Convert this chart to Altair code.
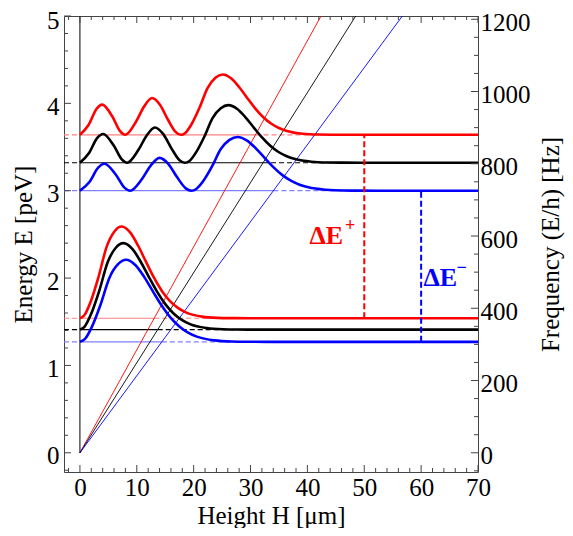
import altair as alt
import pandas as pd

# ---------------- data ----------------
X_DOMAIN = [-2.8, 70]
Y_DOMAIN = [-0.22, 5]
HZ_PER_PEV = 241.8
W, H = 414, 456

series = ["red", "black", "blue"]
curve_colors = ["#FF0000", "#000000", "#0000FF"]
level_colors = ["#FF8080", "#000000", "#8080FF"]

lower_levels = [1.54, 1.41, 1.27]
upper_levels = [3.64, 3.32, 3.00]
potential_top_x = [42.4, 48.5, 56.7]  # H where each potential line reaches 5 peV

# ground state curves
red_low_x = [0, 0.77, 1.89, 3.28, 4.68, 6.07, 7.36, 8.86, 10.26, 11.65, 13.05, 14.44, 15.84, 17.23, 18.63, 21.42, 24.21, 27.00, 29.79, 70]
red_low_y = [1.540, 1.574, 1.729, 2.015, 2.355, 2.533, 2.590, 2.520, 2.367, 2.182, 2.001, 1.850, 1.736, 1.659, 1.607, 1.559, 1.544, 1.541, 1.540, 1.540]
black_low_x = [0, 0.80, 1.96, 3.41, 4.86, 6.31, 7.65, 9.21, 10.66, 12.11, 13.56, 15.01, 16.46, 17.91, 19.36, 22.26, 25.16, 28.06, 30.96, 70]
black_low_y = [1.410, 1.442, 1.588, 1.857, 2.178, 2.347, 2.400, 2.334, 2.190, 2.015, 1.845, 1.702, 1.595, 1.522, 1.473, 1.428, 1.414, 1.411, 1.410, 1.410]
blue_low_x = [0, 0.85, 2.08, 3.62, 5.16, 6.70, 8.13, 9.78, 11.32, 12.86, 14.40, 15.94, 17.48, 19.02, 20.56, 23.64, 26.72, 29.80, 32.88, 70]
blue_low_y = [1.270, 1.300, 1.439, 1.695, 1.999, 2.159, 2.210, 2.147, 2.011, 1.844, 1.683, 1.547, 1.446, 1.376, 1.330, 1.287, 1.274, 1.271, 1.270, 1.270]

# third state curves
red_up_x = [0, 1.51, 2.91, 3.91, 5.70, 7.09, 8.00, 9.88, 11.28, 12.68, 14.07, 15.46, 16.86, 17.76, 18.53, 19.65, 21.04, 22.44, 23.83, 25.12, 26.62, 28.02, 29.41, 30.81, 32.20, 33.60, 34.99, 36.39, 39.18, 41.97, 44.76, 47.55, 70]
red_up_y = [3.640, 3.752, 3.936, 3.985, 3.849, 3.679, 3.640, 3.792, 3.964, 4.062, 3.985, 3.815, 3.671, 3.640, 3.662, 3.764, 3.952, 4.175, 4.293, 4.330, 4.284, 4.184, 4.062, 3.943, 3.844, 3.769, 3.718, 3.684, 3.652, 3.643, 3.641, 3.640, 3.640]
black_up_x = [0, 1.57, 3.02, 4.07, 5.92, 7.37, 8.31, 10.27, 11.72, 13.18, 14.62, 16.07, 17.52, 18.46, 19.26, 20.42, 21.87, 23.32, 24.77, 26.11, 27.67, 29.12, 30.57, 32.02, 33.47, 34.92, 36.37, 37.82, 40.72, 43.62, 46.52, 49.42, 70]
black_up_y = [3.320, 3.428, 3.603, 3.650, 3.520, 3.358, 3.320, 3.465, 3.630, 3.724, 3.650, 3.488, 3.349, 3.320, 3.341, 3.439, 3.618, 3.832, 3.944, 3.980, 3.936, 3.840, 3.723, 3.610, 3.515, 3.443, 3.395, 3.362, 3.332, 3.323, 3.321, 3.320, 3.320]
blue_up_x = [0, 1.67, 3.21, 4.32, 6.29, 7.83, 8.83, 10.91, 12.45, 14.00, 15.53, 17.07, 18.61, 19.61, 20.46, 21.69, 23.23, 24.77, 26.31, 27.73, 29.39, 30.93, 32.47, 34.01, 35.55, 37.09, 38.63, 40.17, 43.25, 46.33, 49.41, 52.49, 70]
blue_up_y = [3.000, 3.100, 3.264, 3.308, 3.186, 3.035, 3.000, 3.135, 3.288, 3.376, 3.308, 3.156, 3.027, 3.000, 3.020, 3.111, 3.278, 3.477, 3.582, 3.615, 3.574, 3.485, 3.376, 3.270, 3.181, 3.115, 3.069, 3.039, 3.011, 3.002, 3.001, 3.000, 3.000]

delta_x = [50, 60]          # H of the dashed ΔE markers (red, blue)
label_pos = [(48.4, 2.48), (60.4, 2.0)]

x_ticks = [0, 10, 20, 30, 40, 50, 60, 70]
y_ticks = [0, 1, 2, 3, 4, 5]
hz_ticks = [0, 200, 400, 600, 800, 1000, 1200]

FONT = "Liberation Serif"
FS = 25

curve_color = dict(zip(series, curve_colors))
level_color = dict(zip(series, level_colors))

# ---------------- tables ----------------
curve_rows = []
for s, (xs, ys) in zip(series, [(red_low_x, red_low_y), (black_low_x, black_low_y), (blue_low_x, blue_low_y)]):
    for i, (a, b) in enumerate(zip(xs, ys)):
        curve_rows.append({"c": curve_color[s], "curve": s + "1", "i": i, "x": a, "y": b})
for s, (xs, ys) in zip(series, [(red_up_x, red_up_y), (black_up_x, black_up_y), (blue_up_x, blue_up_y)]):
    for i, (a, b) in enumerate(zip(xs, ys)):
        curve_rows.append({"c": curve_color[s], "curve": s + "3", "i": i, "x": a, "y": b})
curves = pd.DataFrame(curve_rows)

solid_rows, dash_rows = [], []
for s, lo, up, tx in zip(series, lower_levels, upper_levels, potential_top_x):
    for e in (lo, up):
        turn = e * tx / Y_DOMAIN[1]
        solid_rows.append({"c": level_color[s], "x": 0, "x2": turn, "y": e})
        dash_rows.append({"c": level_color[s], "x": X_DOMAIN[0], "x2": 0, "y": e})
        dash_rows.append({"c": level_color[s], "x": turn, "x2": X_DOMAIN[1], "y": e})
lev_solid = pd.DataFrame(solid_rows)
lev_dash = pd.DataFrame(dash_rows)

pot = pd.DataFrame([{"c": curve_color[s], "s": s, "x": xv, "y": yv, "i": k}
                    for s, tx in zip(series, potential_top_x)
                    for k, (xv, yv) in enumerate([(0, 0), (tx, Y_DOMAIN[1])])])

wall = pd.DataFrame({"x": [0], "y": [0], "y2": [Y_DOMAIN[1]]})

deltas = pd.DataFrame({"c": [curve_color["red"], curve_color["blue"]], "x": delta_x,
                       "y": [lower_levels[0], lower_levels[2]],
                       "y2": [upper_levels[0], upper_levels[2]]})

x_minor = [float(v) for v in range(-2, 71, 2) if v % 10 != 0]
y_minor = [round(v * 0.2, 2) for v in range(-1, 25) if v % 5 != 0]
hz_minor = [v for v in range(-50, 1201, 50) if v % 200 != 0]

# ---------------- encodings ----------------
xscale = alt.Scale(domain=X_DOMAIN, nice=False, zero=False)
yscale = alt.Scale(domain=Y_DOMAIN, nice=False, zero=False)
hzscale = alt.Scale(domain=[Y_DOMAIN[0] * HZ_PER_PEV, Y_DOMAIN[1] * HZ_PER_PEV], nice=False, zero=False)

axis_common = dict(ticks=False, domain=False, grid=False, labelFont=FONT, labelFontSize=FS,
                   labelColor="black", titleFont=FONT, titleFontSize=FS, titleFontWeight="normal",
                   titleColor="black", format="d", labelOverlap=False, labelFlush=False)
x_axis = alt.Axis(values=x_ticks, labelPadding=3, title="Height H [μm]", titlePadding=3, **axis_common)
y_axis = alt.Axis(values=y_ticks, labelPadding=5,
                  labelOffset={"condition": {"test": "datum.value == 5", "value": 4.5}, "value": 3},
                  title="Energy E [peV]", titlePadding=10, **axis_common)
hz_axis = alt.Axis(values=hz_ticks, orient="right", labelPadding=2, labelOffset=3,
                   title="Frequency (E/h) [Hz]", titlePadding=33, titleAngle=270, **axis_common)


def X(f="x"):
    return alt.X(f + ":Q", scale=xscale, axis=x_axis)


def Y(f="y"):
    return alt.Y(f + ":Q", scale=yscale, axis=y_axis)


C = alt.Color("c:N", scale=None, legend=None)

levels_solid = alt.Chart(lev_solid).mark_rule(strokeWidth=1.2, clip=True).encode(
    x=X(), x2="x2:Q", y=Y(), color=C)
levels_dash = alt.Chart(lev_dash).mark_rule(strokeWidth=1.2, strokeDash=[5, 3], clip=True).encode(
    x=X(), x2="x2:Q", y=Y(), color=C)
potentials = alt.Chart(pot).mark_line(strokeWidth=0.9, clip=True).encode(
    x=X(), y=Y(), color=C, detail="s:N", order="i:Q")
wall_rule = alt.Chart(wall).mark_rule(strokeWidth=1, color="black").encode(
    x=X(), y=Y(), y2="y2:Q")
waves = alt.Chart(curves).mark_line(strokeWidth=2.6, interpolate="monotone", clip=True).encode(
    x=X(), y=Y(), color=C, detail="curve:N", order="i:Q")
delta_rules = alt.Chart(deltas).mark_rule(strokeWidth=2, strokeDash=[6, 3]).encode(
    x=X(), y=Y(), y2="y2:Q", color=C)

lab_red = pd.DataFrame({"x": [label_pos[0][0]], "y": [label_pos[0][1]]})
lab_blue = pd.DataFrame({"x": [label_pos[1][0]], "y": [label_pos[1][1]]})
t_red = alt.Chart(lab_red).mark_text(text="ΔE", align="right", baseline="middle", dx=-12, font=FONT,
                                    fontSize=26, fontWeight="bold", color="#FF0000").encode(x=X(), y=Y())
t_red_sup = alt.Chart(lab_red).mark_text(text="+", align="right", baseline="middle", dy=-10, font=FONT,
                                        fontSize=18, fontWeight="bold", color="#FF0000").encode(x=X(), y=Y())
t_blue = alt.Chart(lab_blue).mark_text(text="ΔE", align="left", baseline="middle", font=FONT,
                                      fontSize=26, fontWeight="bold", color="#0000FF").encode(x=X(), y=Y())
t_blue_sup = alt.Chart(lab_blue).mark_text(text="−", align="left", baseline="middle", dx=33, dy=-10, font=FONT,
                                          fontSize=18, fontWeight="bold", color="#0000FF").encode(x=X(), y=Y())

TC = "#444444"
xt_major = pd.DataFrame({"x": x_ticks})
xt_minor = pd.DataFrame({"x": x_minor})
yt_major = pd.DataFrame({"y": y_ticks})
yt_minor = pd.DataFrame({"y": y_minor})
ticks = [
    alt.Chart(xt_major).mark_rule(color=TC).encode(x=X(), y=alt.value(H), y2=alt.value(H - 7)),
    alt.Chart(xt_minor).mark_rule(color=TC).encode(x=X(), y=alt.value(H), y2=alt.value(H - 4)),
    alt.Chart(xt_major).mark_rule(color=TC).encode(x=X(), y=alt.value(0), y2=alt.value(7)),
    alt.Chart(xt_minor).mark_rule(color=TC).encode(x=X(), y=alt.value(0), y2=alt.value(4)),
    alt.Chart(yt_major).mark_rule(color=TC).encode(y=Y(), x=alt.value(0), x2=alt.value(7)),
    alt.Chart(yt_minor).mark_rule(color=TC).encode(y=Y(), x=alt.value(0), x2=alt.value(4)),
]

main = alt.layer(levels_dash, levels_solid, potentials, wall_rule, waves, delta_rules,
                 t_red, t_red_sup, t_blue, t_blue_sup, *ticks)

hz_major = pd.DataFrame({"hz": hz_ticks})
hz_min = pd.DataFrame({"hz": hz_minor})
HZY = alt.Y("hz:Q", scale=hzscale, axis=hz_axis)
right = alt.layer(
    alt.Chart(hz_major).mark_rule(color=TC).encode(y=HZY, x=alt.value(W - 7), x2=alt.value(W)),
    alt.Chart(hz_min).mark_rule(color=TC).encode(y=HZY, x=alt.value(W - 4), x2=alt.value(W)),
)

chart = alt.layer(main, right).resolve_scale(y="independent").properties(
    width=W, height=H, autosize="none",
    padding={"left": 56, "top": 8, "right": 87, "bottom": 56},
).configure_view(stroke=TC, strokeWidth=1)

chart.save("out.html", embed_options={"renderer": "svg", "actions": False})
